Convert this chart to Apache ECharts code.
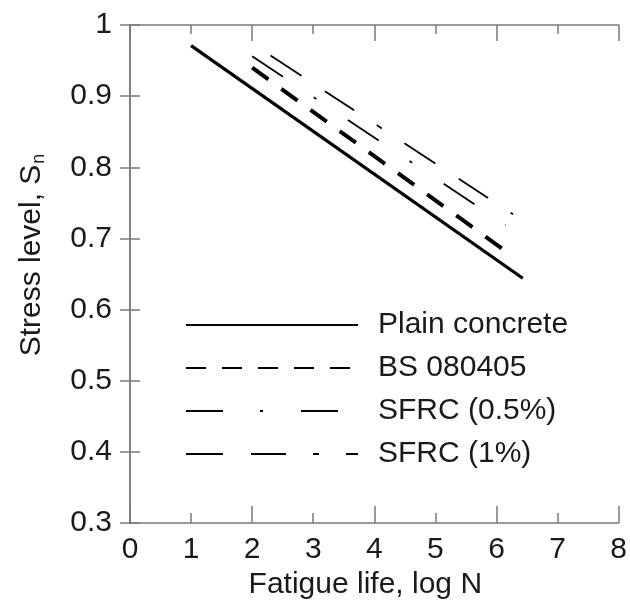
<!DOCTYPE html>
<html>
<head>
<meta charset="utf-8">
<script src="https://cdn.jsdelivr.net/npm/echarts@6/dist/echarts.min.js"></script>
<style>
  html, body { margin: 0; padding: 0; background: #fff; }
  #chart_sn { width: 630px; height: 608px; }
</style>
</head>
<body>
<div id="chart_sn"></div>
<script>
// S-N lines: [log N, S]
const seriesNames = ['Plain concrete', 'BS 080405', 'SFRC (0.5%)', 'SFRC (1%)'];
const plainConcrete = [[1.0, 0.971], [6.43, 0.644]];
const bs080405 = [[2.0, 0.940], [6.28, 0.674]];
const sfrc05 = [[2.0, 0.956], [6.15, 0.719]];
const sfrc1 = [[2.3, 0.957], [6.27, 0.734]];

const xRange = [0, 8];
const yRange = [0.3, 1];

const FONT = "'Liberation Sans', Arial, sans-serif";
const FS = 30;
const TEXT = '#1a1a1a';
const FRAME = '#7a7a7a';

function frameAxis(extra) {
  return Object.assign({
    type: 'value',
    axisLine: { show: true, lineStyle: { color: FRAME, width: 1.5 } },
    axisTick: { show: true, inside: true, length: 10, lineStyle: { color: FRAME, width: 1.5 } },
    axisLabel: { show: false },
    splitLine: { show: false },
  }, extra);
}

const xBase = { min: xRange[0], max: xRange[1] };
const yBase = { min: yRange[0], max: yRange[1], interval: 0.1 };

const option = {
  animation: false,
  backgroundColor: '#fff',
  textStyle: { fontFamily: FONT },
  grid: { left: 130, right: 3, top: 25, bottom: 85 },
  legend: {
    orient: 'vertical',
    left: 185,
    top: 310,
    padding: 0,
    itemWidth: 172,
    itemHeight: 20,
    itemGap: 13,
    data: seriesNames,
    itemStyle: { opacity: 0 },
    textStyle: { fontSize: FS, color: TEXT, fontFamily: FONT, lineHeight: 30, padding: [0, 0, 0, 15] },
  },
  xAxis: [
    frameAxis(Object.assign({}, xBase, {
      position: 'bottom',
      interval: 1,
      axisLabel: { show: true, fontSize: FS, color: TEXT, fontFamily: FONT, margin: 12 },
      name: 'Fatigue life, log N',
      nameLocation: 'middle',
      nameGap: 46,
      nameTextStyle: { fontSize: FS, color: TEXT, fontFamily: FONT, padding: [0, 18, 0, 0] },
    })),
    frameAxis(Object.assign({}, xBase, {
      position: 'bottom', interval: 2, axisLine: { show: false },
      axisTick: { inside: true, length: 17, lineStyle: { color: FRAME, width: 1.5 } },
    })),
    frameAxis(Object.assign({}, xBase, {
      position: 'top', interval: 1,
      axisTick: { inside: true, length: 9, lineStyle: { color: FRAME, width: 1.5 } },
    })),
    frameAxis(Object.assign({}, xBase, {
      position: 'top', interval: 2, axisLine: { show: false },
      axisTick: { inside: true, length: 16, lineStyle: { color: FRAME, width: 1.5 } },
    })),
  ],
  yAxis: [
    frameAxis(Object.assign({}, yBase, {
      position: 'left',
      axisLabel: {
        show: true, fontSize: FS, color: TEXT, fontFamily: FONT, margin: 18,
        formatter: (v) => {
          const r = Math.round(v * 10) / 10;
          return r === 1 ? '1' : r.toFixed(1);
        },
      },
      name: '{s|Stress level, S}{sub|n}',
      nameLocation: 'middle',
      nameRotate: 90,
      nameGap: 82,
      nameTextStyle: {
        padding: [0, 0, 0, 38],
        rich: {
          s: { fontSize: FS, color: TEXT, fontFamily: FONT },
          sub: { fontSize: 18, color: TEXT, fontFamily: FONT, padding: [15, 0, 0, 1] },
        },
      },
    })),
    frameAxis(Object.assign({}, yBase, { position: 'right' })),
  ],
  series: [
    {
      name: seriesNames[0], type: 'line', data: plainConcrete, symbol: 'none',
      lineStyle: { color: '#000', width: 3.2, type: 'solid' },
    },
    {
      name: seriesNames[1], type: 'line', data: bs080405, symbol: 'none',
      lineStyle: { color: '#000', width: 4, type: [20, 16] },
    },
    {
      name: seriesNames[2], type: 'line', data: sfrc05, symbol: 'none',
      lineStyle: { color: '#000', width: 1.8, type: [37, 37, 3, 38] },
    },
    {
      name: seriesNames[3], type: 'line', data: sfrc1, symbol: 'none',
      lineStyle: { color: '#000', width: 1.8, type: [37, 28, 35, 27, 6, 27] },
    },
  ],
};

const chart = echarts.init(document.getElementById('chart_sn'));
chart.setOption(option);
</script>
</body>
</html>
